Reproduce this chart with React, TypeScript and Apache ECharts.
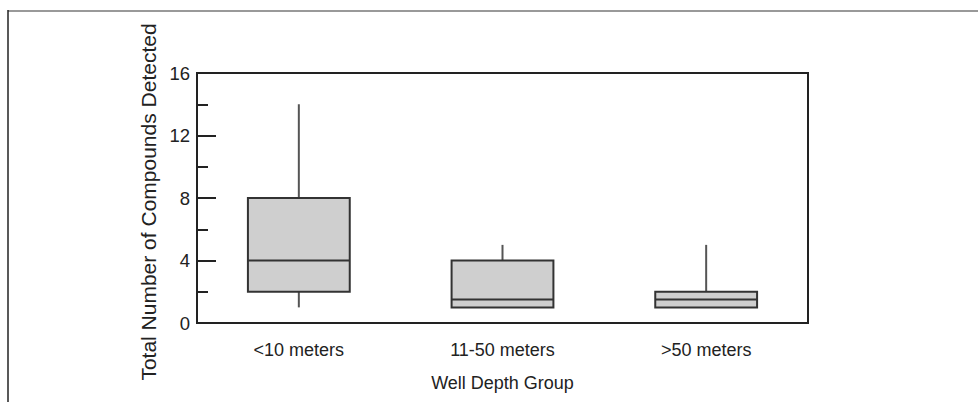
import React, { useEffect, useRef } from "react";
import * as echarts from "echarts";

const categories = ["<10 meters", "11-50 meters", ">50 meters"];
const whiskerLow = [1, 1, 1];
const q1 = [2, 1, 1];
const median = [4, 1.5, 1.5];
const q3 = [8, 4, 2];
const whiskerHigh = [14, 5, 5];
const yTicks = { min: 0, max: 16, interval: 4 };

const FONT = "'Liberation Sans', Arial, Helvetica, sans-serif";

export default function App() {
  const ref = useRef<HTMLDivElement>(null);
  useEffect(() => {
    if (!ref.current) return;
    const chart = echarts.init(ref.current, undefined, { renderer: "svg" });
    const data = categories.map((_, i) => [i, whiskerLow[i], q1[i], median[i], q3[i], whiskerHigh[i]]);
    chart.setOption({
      animation: false,
      backgroundColor: "#ffffff",
      grid: {
        left: 197,
        top: 73,
        right: 170,
        bottom: 79,
        show: true,
        borderColor: "#222",
        borderWidth: 2,
        backgroundColor: "transparent",
      },
      xAxis: {
        type: "category",
        data: categories,
        boundaryGap: true,
        axisLine: { show: true, lineStyle: { color: "#222", width: 2 } },
        axisTick: { show: false },
        axisLabel: { color: "#222", fontSize: 18, fontFamily: FONT, margin: 18 },
        name: "Well Depth Group",
        nameLocation: "middle",
        nameGap: 51,
        nameTextStyle: { color: "#222", fontSize: 18, fontFamily: FONT },
        splitLine: { show: false },
      },
      yAxis: {
        type: "value",
        min: yTicks.min,
        max: yTicks.max,
        interval: yTicks.interval,
        axisLine: { show: true, lineStyle: { color: "#222", width: 2 } },
        axisTick: { show: true, inside: true, length: 19, lineStyle: { color: "#222", width: 2 } },
        minorTick: { show: true, splitNumber: 2, length: 11, lineStyle: { color: "#222", width: 2 } },
        axisLabel: { color: "#222", fontSize: 18.5, fontFamily: FONT, margin: 7 },
        splitLine: { show: false },
        name: "Total Number of Compounds Detected",
        nameLocation: "middle",
        nameGap: 29,
        nameRotate: 90,
        nameTextStyle: { color: "#222", fontSize: 21, fontFamily: FONT, padding: [0, 8, 0, 0] },
      },
      graphic: [
        { type: "line", shape: { x1: 8, y1: 11, x2: 978, y2: 11 }, style: { stroke: "#999", lineWidth: 2 } },
        { type: "line", shape: { x1: 8, y1: 10, x2: 8, y2: 402 }, style: { stroke: "#222", lineWidth: 1.5 } },
      ],
      series: [
        {
          type: "custom",
          data,
          encode: { x: 0, y: [1, 2, 3, 4, 5] },
          renderItem: (params: any, api: any) => {
            const idx = api.value(0);
            const lo = api.coord([idx, api.value(1)]);
            const b1 = api.coord([idx, api.value(2)]);
            const md = api.coord([idx, api.value(3)]);
            const b3 = api.coord([idx, api.value(4)]);
            const hi = api.coord([idx, api.value(5)]);
            const w = api.size([1, 0])[0] * 0.5;
            const cx = lo[0];
            return {
              type: "group",
              children: [
                {
                  type: "line",
                  shape: { x1: cx, y1: hi[1], x2: cx, y2: b3[1] },
                  style: { stroke: "#555", lineWidth: 2 },
                },
                {
                  type: "line",
                  shape: { x1: cx, y1: b1[1], x2: cx, y2: lo[1] },
                  style: { stroke: "#555", lineWidth: 2 },
                },
                {
                  type: "rect",
                  shape: { x: cx - w / 2, y: b3[1], width: w, height: b1[1] - b3[1] },
                  style: { fill: "#cfcfcf", stroke: "#333", lineWidth: 2 },
                },
                {
                  type: "line",
                  shape: { x1: cx - w / 2, y1: md[1], x2: cx + w / 2, y2: md[1] },
                  style: { stroke: "#333", lineWidth: 2 },
                },
              ],
            };
          },
        },
      ],
    });
    return () => chart.dispose();
  }, []);
  return (
    <div
      ref={ref}
      style={{ position: "absolute", left: 0, top: 0, width: 978, height: 402, background: "#fff" }}
    />
  );
}
